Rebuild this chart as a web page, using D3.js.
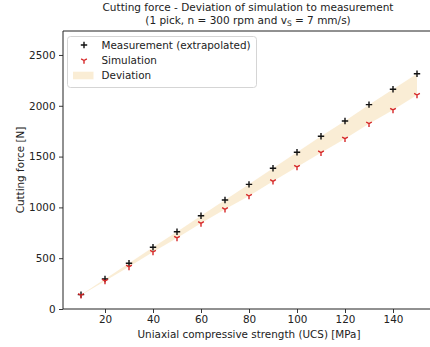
<!DOCTYPE html>
<html>
<head>
<meta charset="utf-8">
<script src="https://cdn.jsdelivr.net/npm/d3@7"></script>
<style>
  html, body { margin: 0; padding: 0; background: #fff; }
  svg { display: block; font-family: "DejaVu Sans", sans-serif; }
</style>
</head>
<body>
<svg id="chart" width="430" height="347"></svg>
<script>
// ---- data ----
const ucs = [10, 20, 30, 40, 50, 60, 70, 80, 90, 100, 110, 120, 130, 140, 150];
const measurement = [141, 295, 450, 607, 761, 918, 1073, 1227, 1385, 1542, 1700, 1850, 2011, 2162, 2316];
const simulation = [135, 276, 415, 561, 699, 843, 981, 1112, 1257, 1398, 1539, 1676, 1824, 1959, 2106];
const xTicks = [20, 40, 60, 80, 100, 120, 140];
const yTicks = [0, 500, 1000, 1500, 2000, 2500];
const legendLabels = ["Measurement (extrapolated)", "Simulation", "Deviation"];

// ---- layout ----
const svg = d3.select("#chart");
const mLeft = 63, mTop = 31, mBottom = 309;
const x = d3.scaleLinear().domain([3, 157]).range([64.2, 433.8]);
const y = d3.scaleLinear().domain([0, 2736]).range([mBottom, mTop]);

const bandColor = "#f5deb3";
const simColor = "#d62728";
const fs = 10.4;

// band
const rows = ucs.map((u, i) => ({u, m: measurement[i], s: simulation[i]}));
svg.append("path")
  .datum(rows)
  .attr("d", d3.area().x(d => x(d.u)).y0(d => y(d.s)).y1(d => y(d.m)))
  .attr("fill", bandColor).attr("fill-opacity", 0.55);

// axes
const xAxis = svg.append("g").attr("transform", `translate(0,${mBottom})`)
  .call(d3.axisBottom(x).tickValues(xTicks).tickFormat(d3.format("d"))
    .tickSize(4).tickPadding(3).tickSizeOuter(0));
const yAxis = svg.append("g").attr("transform", `translate(${mLeft},0)`)
  .call(d3.axisLeft(y).tickValues(yTicks).tickFormat(d3.format("d"))
    .tickSize(4).tickPadding(3.5).tickSizeOuter(0));
[xAxis, yAxis].forEach(g => {
  g.select(".domain").attr("stroke", "#222").attr("stroke-width", 1);
  g.selectAll(".tick line").attr("stroke", "#222").attr("stroke-width", 0.9);
  g.selectAll(".tick text").attr("fill", "#222").style("font-size", fs + "px")
    .style("font-family", "DejaVu Sans, sans-serif");
});
xAxis.select(".domain").attr("d", `M${mLeft},0H${430}`);
yAxis.select(".domain").attr("d", `M0,${mBottom}V${mTop}`);
// top spine
svg.append("line").attr("x1", mLeft).attr("x2", 430).attr("y1", mTop).attr("y2", mTop)
  .attr("stroke", "#222").attr("stroke-width", 1);

// markers
function plus(sel, cx, cy, r) {
  sel.append("path").attr("d", `M${cx - r},${cy}H${cx + r}M${cx},${cy - r}V${cy + r}`)
    .attr("stroke", "#111").attr("stroke-width", 1.4).attr("fill", "none");
}
function tri(sel, cx, cy, r) {
  const dx = r * 0.866, dy = r * 0.5;
  sel.append("path")
    .attr("d", `M${cx},${cy}V${cy + r}M${cx},${cy}L${cx - dx},${cy - dy}M${cx},${cy}L${cx + dx},${cy - dy}`)
    .attr("stroke", simColor).attr("stroke-width", 1.4).attr("fill", "none");
}
const gm = svg.append("g");
rows.forEach(d => plus(gm, x(d.u), y(d.m), 3.2));
const gs = svg.append("g");
rows.forEach(d => tri(gs, x(d.u), y(d.s), 3.3));

// axis labels
svg.append("text").attr("x", 249).attr("y", 338).attr("text-anchor", "middle")
  .style("font-size", fs + "px").attr("fill", "#222")
  .text("Uniaxial compressive strength (UCS) [MPa]");
svg.append("text").attr("transform", `translate(24,170) rotate(-90)`).attr("text-anchor", "middle")
  .style("font-size", fs + "px").attr("fill", "#222")
  .text("Cutting force [N]");

// title
svg.append("text").attr("x", 248).attr("y", 11).attr("text-anchor", "middle")
  .style("font-size", "10.5px").attr("fill", "#222")
  .text("Cutting force - Deviation of simulation to measurement");
const t2 = svg.append("text").attr("x", 248).attr("y", 23.5).attr("text-anchor", "middle")
  .style("font-size", "10.5px").attr("fill", "#222");
t2.append("tspan").text("(1 pick, n = 300 rpm and v");
t2.append("tspan").attr("dy", 2.5).style("font-size", "7.5px").text("S");
t2.append("tspan").attr("dy", -2.5).text(" = 7 mm/s)");

// legend
const lg = svg.append("g");
lg.append("rect").attr("x", 67.5).attr("y", 36.5).attr("width", 189).attr("height", 51)
  .attr("rx", 3).attr("fill", "#fff").attr("fill-opacity", 0.8)
  .attr("stroke", "#d5d5d5").attr("stroke-width", 1);
const ly = [45, 60.5, 75.5];
plus(lg, 84, ly[0], 3.2);
tri(lg, 84, ly[1], 3.3);
lg.append("rect").attr("x", 73).attr("y", ly[2] - 3.8).attr("width", 20.5).attr("height", 7.6)
  .attr("fill", bandColor).attr("fill-opacity", 0.55);
legendLabels.forEach((t, i) => {
  lg.append("text").attr("x", 101.5).attr("y", ly[i] + 3.8).style("font-size", fs + "px")
    .attr("fill", "#222").text(t);
});
</script>
</body>
</html>
